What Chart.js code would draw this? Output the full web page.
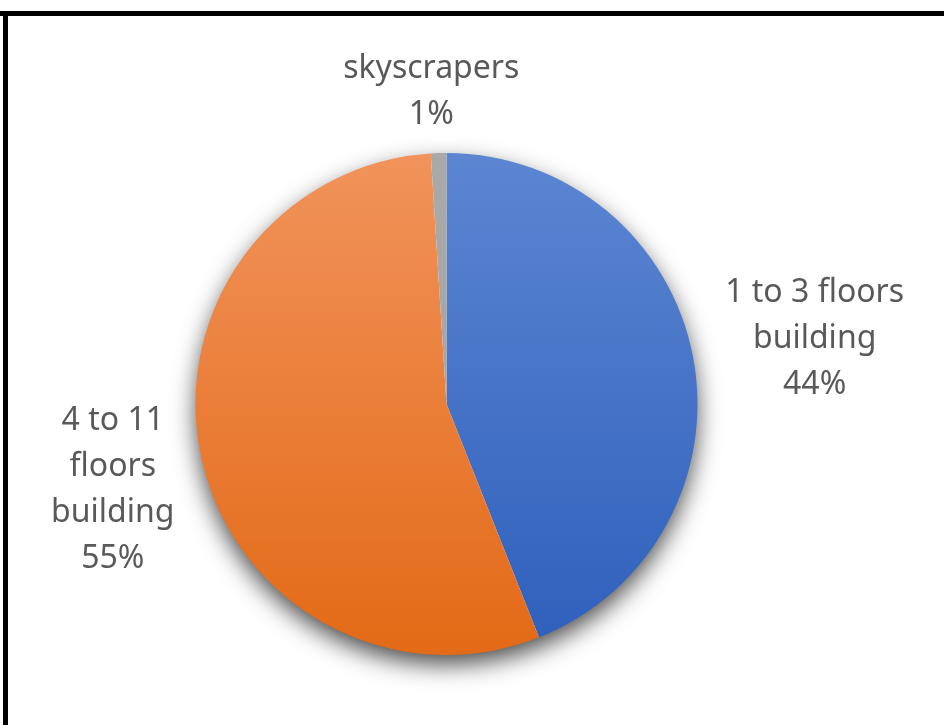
<!DOCTYPE html>
<html>
<head>
<meta charset="utf-8">
<script src="https://cdn.jsdelivr.net/npm/chart.js@4/dist/chart.umd.min.js"></script>
<style>
  html, body { margin: 0; padding: 0; background: #ffffff; }
  #wrap { position: relative; width: 944px; height: 725px; }
  canvas { display: block; }
</style>
</head>
<body>
<div id="wrap"><canvas id="chart" width="944" height="725"></canvas></div>
<script>
// Building types by height, share of total (clockwise from 12 o'clock)
const categories = ['1 to 3 floors building', '4 to 11 floors building', 'skyscrapers'];
const labelLines = [['1 to 3 floors', 'building'], ['4 to 11', 'floors', 'building'], ['skyscrapers']];
const shares = [44, 55, 1];

// Slice colours: [top of gradient, bottom of gradient]
const sliceColors = [
  ['#5c86d2', '#2e5fbb'],
  ['#f1935b', '#e36a16'],
  ['#a9a9a9', '#a3a3a3']
];

function sliceFill(ctx) {
  const chart = ctx.chart;
  const area = chart.chartArea;
  if (!area) return sliceColors[ctx.dataIndex][0];
  const g = chart.ctx.createLinearGradient(0, area.top, 0, area.bottom);
  g.addColorStop(0, sliceColors[ctx.dataIndex][0]);
  g.addColorStop(1, sliceColors[ctx.dataIndex][1]);
  return g;
}

// Frame lines along the top and left edge
const framePlugin = {
  id: 'frame',
  beforeDraw(chart) {
    const c = chart.ctx;
    c.save();
    c.fillStyle = '#000000';
    c.fillRect(0, 11, chart.width, 5);
    c.fillRect(3, 11, 5, chart.height - 11);
    c.restore();
  }
};

// Soft drop shadow under the pie
const shadowPlugin = {
  id: 'pieShadow',
  beforeDatasetsDraw(chart) {
    const arc = chart.getDatasetMeta(0).data[0];
    if (!arc) return;
    const c = chart.ctx;
    c.save();
    c.shadowColor = 'rgba(0,0,0,0.72)';
    c.shadowBlur = 24;
    c.shadowOffsetY = 10;
    c.fillStyle = '#ffffff';
    c.beginPath();
    c.arc(arc.x, arc.y, arc.outerRadius - 1, 0, Math.PI * 2);
    c.fill();
    c.restore();
  }
};

// Category + percentage labels outside each slice
const labelPlugin = {
  id: 'outsideLabels',
  afterDatasetsDraw(chart, args, opts) {
    const meta = chart.getDatasetMeta(0);
    const data = chart.data.datasets[0].data;
    const total = data.reduce((a, b) => a + b, 0);
    const c = chart.ctx;
    const lh = opts.lineHeight;
    c.save();
    c.font = opts.font;
    c.fillStyle = opts.color;
    c.textAlign = 'center';
    c.textBaseline = 'alphabetic';
    meta.data.forEach((arc, i) => {
      const lines = labelLines[i].concat([Math.round(data[i] / total * 100) + '%']);
      const mid = (arc.startAngle + arc.endAngle) / 2;
      const r = arc.outerRadius + opts.gap;
      const ax = arc.x + Math.cos(mid) * r;
      const ay = arc.y + Math.sin(mid) * r;
      const w = Math.max(...lines.map(l => c.measureText(l).width));
      const h = lines.length * lh;
      // push the block outward so its nearest edge sits at the anchor
      const cx = ax + Math.cos(mid) * w / 2 + opts.nudge[i][0];
      const cy = ay + Math.sin(mid) * h / 2 + opts.nudge[i][1];
      const top = cy - h / 2;
      lines.forEach((l, k) => {
        c.fillText(l, cx, top + lh * k + lh * 0.75);
      });
    });
    c.restore();
  }
};

new Chart(document.getElementById('chart'), {
  type: 'pie',
  data: {
    labels: categories,
    datasets: [{
      data: shares,
      backgroundColor: sliceFill,
      borderWidth: 0
    }]
  },
  options: {
    responsive: false,
    animation: false,
    rotation: 0,
    layout: { padding: { top: 153, bottom: 70, left: 195.5, right: 246.5 } },
    plugins: {
      legend: { display: false },
      tooltip: { enabled: false },
      outsideLabels: {
        font: '32px "Noto Sans", sans-serif',
        color: '#595959',
        gap: 18,
        lineHeight: 46,
        nudge: [[16, -4], [-11, 5], [-4, 0]]
      }
    }
  },
  plugins: [framePlugin, shadowPlugin, labelPlugin]
});
</script>
</body>
</html>
